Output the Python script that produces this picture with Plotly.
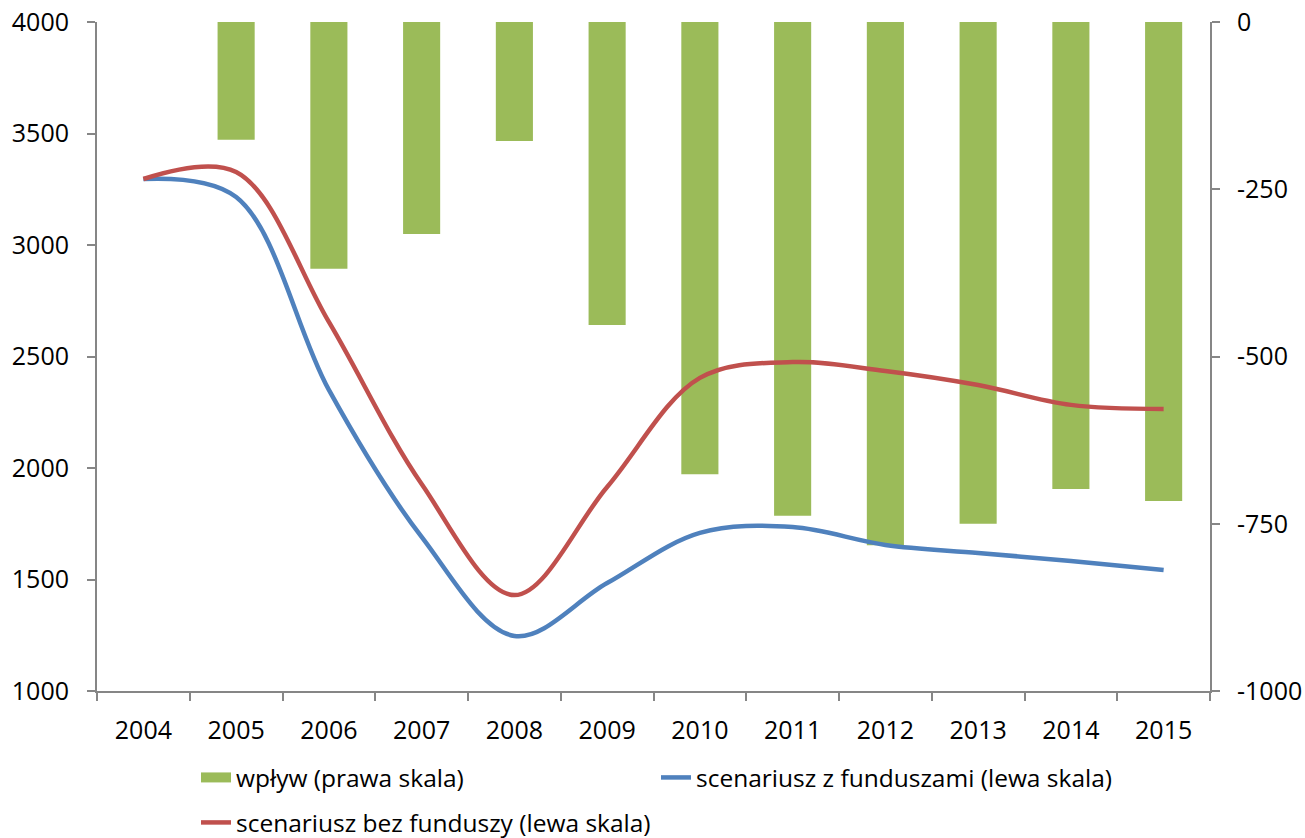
import plotly.graph_objects as go

years = ["2004", "2005", "2006", "2007", "2008", "2009", "2010", "2011", "2012", "2013", "2014", "2015"]
wplyw = [None, -176, -369, -317, -178, -453, -676, -738, -782, -750, -698, -716]
z_funduszami = [3296, 3215, 2350, 1691, 1247, 1484, 1709, 1735, 1655, 1619, 1583, 1543]
bez_funduszy = [3296, 3327, 2655, 1928, 1430, 1915, 2404, 2475, 2435, 2372, 2283, 2265]
right_ticks = [0, -250, -500, -750, -1000]
right_labels = ["0", "-250", "-500", "-750", "-1000"]
left_ticks = [1000, 1500, 2000, 2500, 3000, 3500, 4000]

FONT = "Open Sans"
AX = "#868686"
GREEN = "#9BBB59"
W, H = 1305, 838

fig = go.Figure()
fig.add_trace(go.Bar(x=years, y=wplyw, name="wpływ (prawa skala)", marker_color=GREEN,
                     marker_line_width=0, width=0.4, yaxis="y", showlegend=False))
# legend swatch for the bars (wide rectangle like the original)
fig.add_trace(go.Scatter(x=[None], y=[None], name="wpływ (prawa skala)", mode="lines",
                         line=dict(color=GREEN, width=17), yaxis="y", legend="legend"))
fig.add_trace(go.Scatter(x=years, y=z_funduszami, name="scenariusz z funduszami (lewa skala)",
                         mode="lines", line=dict(color="#4F81BD", width=4.5, shape="spline", smoothing=1.0),
                         yaxis="y2", legend="legend"))
fig.add_trace(go.Scatter(x=years, y=bez_funduszy, name="scenariusz bez funduszy (lewa skala)",
                         mode="lines", line=dict(color="#C0504D", width=4.5, shape="spline", smoothing=1.0),
                         yaxis="y2", legend="legend2"))

leg_common = dict(orientation="h", xanchor="left", yanchor="top", xref="container", yref="container",
                  entrywidth=415, entrywidthmode="pixels", font=dict(size=24.5), bgcolor="rgba(0,0,0,0)")

fig.update_layout(
    width=W, height=H,
    margin=dict(l=97, r=W - 97 - 1113, t=22, b=H - 22 - 669),
    paper_bgcolor="white", plot_bgcolor="white",
    font=dict(family=FONT, size=25, color="black"),
    showlegend=True,
    legend=dict(x=196 / W, y=1 - 755 / H, **leg_common),
    legend2=dict(x=196 / W, y=1 - 800 / H, **leg_common),
    xaxis=dict(type="category", showline=True, linecolor=AX, linewidth=2,
               ticks="outside", tickson="boundaries", ticklen=8, tickcolor=AX, tickwidth=2,
               showgrid=False, ticklabelstandoff=16, automargin=False, ticklabeloverflow="allow"),
    yaxis=dict(side="right", range=[-1000, 0], tickvals=right_ticks, ticktext=right_labels,
               showgrid=False, zeroline=False,
               showline=True, linecolor=AX, linewidth=2, ticks="outside", ticklen=8,
               tickcolor=AX, tickwidth=2, ticklabelstandoff=12, automargin=False,
               ticklabeloverflow="allow"),
    yaxis2=dict(side="left", overlaying="y", range=[1000, 4000], tickvals=left_ticks, showgrid=False,
                zeroline=False, showline=True, linecolor=AX, linewidth=2, ticks="outside",
                ticklen=8, tickcolor=AX, tickwidth=2, ticklabelstandoff=13, automargin=False,
                ticklabeloverflow="allow"),
)

fig.write_html("out.html", config={"displayModeBar": False},
               post_script="document.body.style.margin='0';document.body.style.overflow='hidden';")
